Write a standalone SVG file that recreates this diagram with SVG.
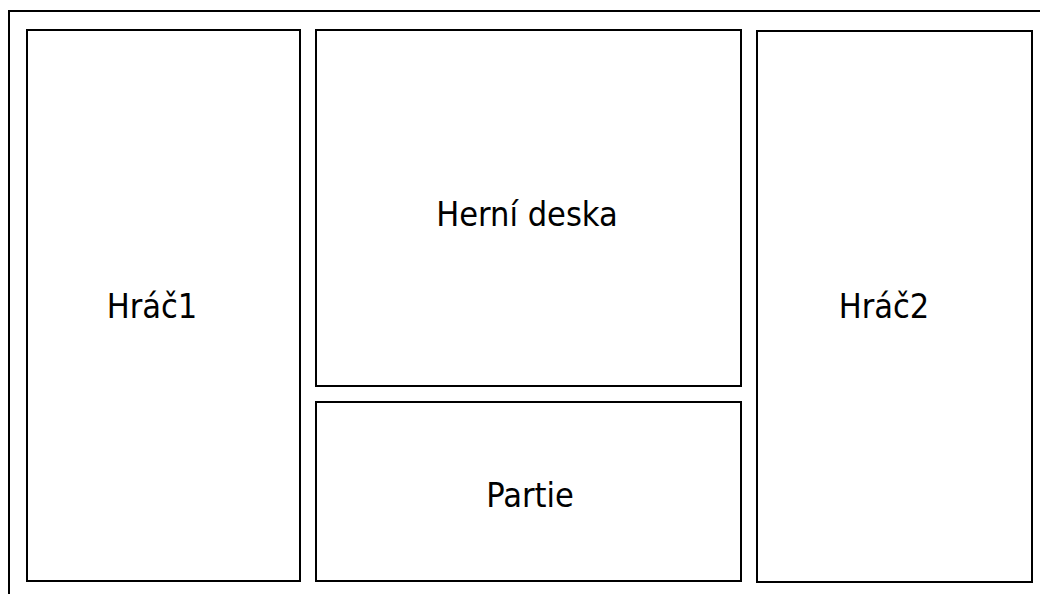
<svg xmlns="http://www.w3.org/2000/svg" width="1040" height="594" viewBox="0 0 1040 594">
<style>
.box{fill:#fff;stroke:#000;stroke-width:2}
.lbl{font-family:"DejaVu Sans Condensed","DejaVu Sans",sans-serif;font-stretch:condensed;font-size:34px;fill:#000;text-anchor:middle}
</style>
<rect width="1040" height="594" fill="#fff"/>
<g id="frame"><rect x="9" y="11" width="1040" height="600" fill="none" stroke="#000" stroke-width="2"/></g>
<g id="hrac1"><rect class="box" x="27" y="30" width="273" height="551"/><text class="lbl" x="152" y="318">Hráč1</text></g>
<g id="herni-deska"><rect class="box" x="316" y="30" width="425" height="356"/><text class="lbl" x="527" y="226">Herní deska</text></g>
<g id="partie"><rect class="box" x="316" y="402" width="425" height="179"/><text class="lbl" x="530" y="507">Partie</text></g>
<g id="hrac2"><rect class="box" x="757" y="31" width="275" height="551"/><text class="lbl" x="884" y="318">Hráč2</text></g>
<g id="connectors"></g>
</svg>
